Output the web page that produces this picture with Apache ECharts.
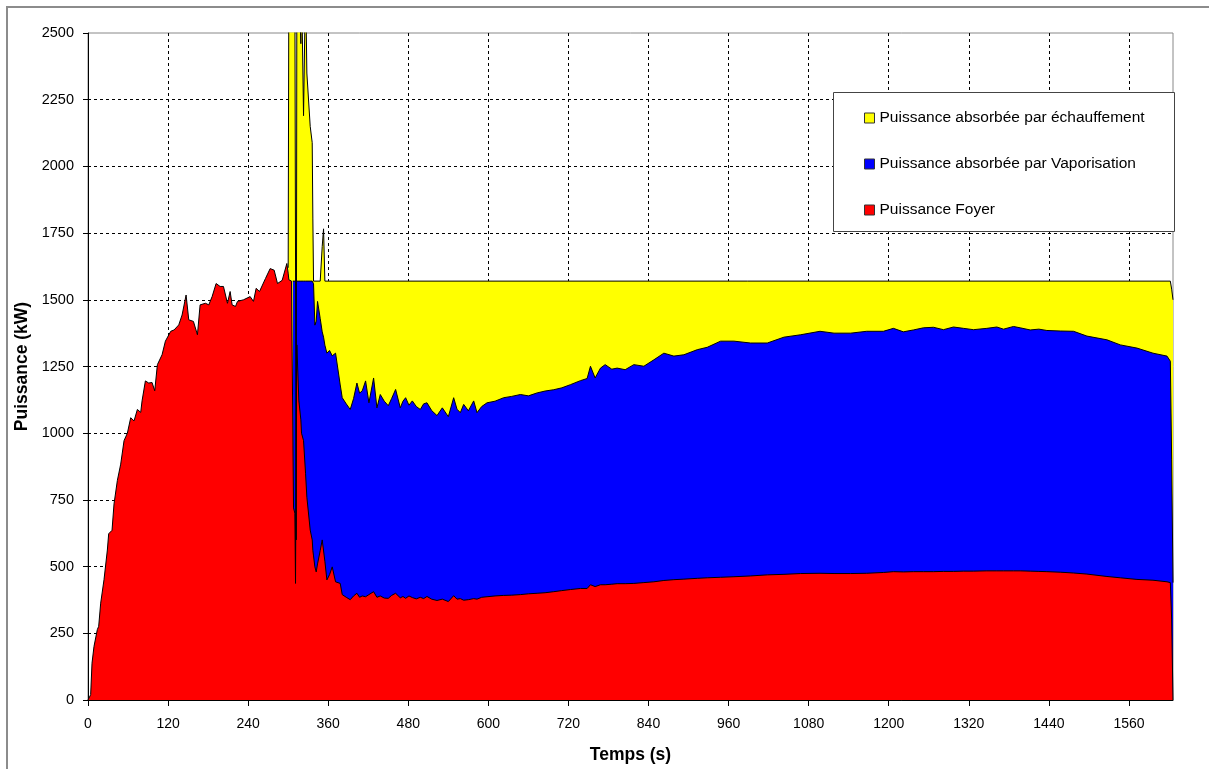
<!DOCTYPE html>
<html>
<head>
<meta charset="utf-8">
<title>Puissance</title>
<script src="https://cdn.jsdelivr.net/npm/echarts@6/dist/echarts.min.js"></script>
<style>
  html, body { margin: 0; padding: 0; background: #fff; }
  #chart { width: 1209px; height: 769px; }
</style>
</head>
<body>
<div id="chart"></div>
<script>
// temps (s), commun à Foyer et Vaporisation
const temps = [
    0, 4, 6, 9, 14, 16, 19, 24, 29, 31,
    36, 39, 44, 49, 54, 59, 64, 69, 74, 79,
    81, 86, 91, 96, 100, 104, 111, 116, 124, 129,
    136, 141, 147, 151, 158, 164, 168, 176, 181, 186,
    192, 198, 203, 209, 213, 216, 221, 224, 233, 243,
    248, 252, 257, 266, 273, 279, 284, 291, 298, 300,
    301, 305, 307, 308, 310, 311, 312, 313, 316, 319,
    320, 323, 326, 328, 333, 336, 337, 338, 340, 342,
    344, 348, 351, 353, 355, 358, 360, 362, 366, 371,
    373, 378, 381, 387, 393, 398, 403, 407, 411, 416,
    421, 428, 433, 438, 444, 450, 455, 461, 468, 472,
    476, 481, 486, 492, 498, 503, 508, 515, 523, 531,
    540, 548, 553, 558, 563, 570, 578, 583, 590, 598,
    610, 623, 635, 648, 660, 673, 685, 698, 710, 723,
    738, 748, 753, 760, 768, 775, 785, 793, 805, 818,
    833, 848, 863, 878, 893, 913, 928, 948, 968, 993,
    1018, 1043, 1068, 1097, 1118, 1143, 1167, 1192, 1207, 1222,
    1237, 1252, 1267, 1282, 1297, 1312, 1327, 1347, 1362, 1372,
    1387, 1397, 1412, 1425, 1437, 1457, 1477, 1497, 1527, 1547,
    1572, 1596, 1617, 1622, 1624, 1626
];

// Puissance Foyer (kW)
const foyer = [
    0, 20, 138, 201, 264, 276, 363, 451, 562, 623,
    636, 735, 823, 884, 972, 1000, 1058, 1046, 1089, 1078,
    1121, 1196, 1188, 1190, 1159, 1257, 1294, 1345, 1382, 1387,
    1406, 1443, 1518, 1425, 1419, 1369, 1481, 1487, 1481, 1512,
    1561, 1550, 1550, 1487, 1531, 1481, 1475, 1494, 1500, 1512,
    1494, 1543, 1531, 1580, 1617, 1611, 1561, 1573, 1636, 1600,
    1575, 1570, 1570, 720, 700, 437, 1000, 1331, 1121, 1050,
    1000, 972, 850, 760, 637, 600, 560, 540, 499, 480,
    510, 560, 600, 600, 520, 450, 455, 470, 499, 443,
    440, 437, 395, 385, 376, 390, 400, 385, 390, 387,
    395, 406, 385, 390, 382, 381, 392, 400, 383, 388,
    381, 390, 384, 379, 385, 380, 388, 378, 373, 378,
    369, 391, 378, 380, 374, 376, 380, 378, 385, 387,
    390, 392, 393, 395, 398, 400, 402, 406, 410, 414,
    418, 418, 432, 425, 432, 432, 434, 436, 436, 437,
    440, 443, 448, 451, 453, 456, 458, 460, 462, 465,
    469, 471, 474, 475, 474, 474, 475, 478, 481, 480,
    481, 481, 481, 482, 482, 483, 483, 484, 484, 484,
    484, 484, 483, 482, 481, 479, 476, 472, 463, 458,
    452, 449, 443, 440, 300, 0
];

// Puissance absorbée par Vaporisation (kW), niveau cumulé
const vaporisation = [
    null, null, null, null, null, null, null, null, null, null,
    null, null, null, null, null, null, null, null, null, null,
    null, null, null, null, null, null, null, null, null, null,
    null, null, null, null, null, null, null, null, null, null,
    null, null, null, null, null, null, null, null, null, null,
    null, null, null, null, null, null, null, null, null, null,
    null, null, 1570, 1570, 1570, 1570, 1570, 1570, 1570, 1570,
    1570, 1570, 1570, 1570, 1570, 1570, 1570, 1560, 1405, 1420,
    1494, 1430, 1380, 1360, 1330, 1300, 1293, 1310, 1290, 1300,
    1293, 1181, 1133, 1110, 1089, 1130, 1188, 1150, 1159, 1196,
    1114, 1207, 1095, 1145, 1120, 1103, 1130, 1164, 1095, 1120,
    1133, 1105, 1121, 1100, 1089, 1110, 1114, 1085, 1066, 1095,
    1062, 1133, 1090, 1077, 1108, 1084, 1121, 1077, 1100, 1114,
    1120, 1133, 1138, 1145, 1140, 1151, 1158, 1163, 1170, 1182,
    1197, 1205, 1251, 1207, 1244, 1257, 1240, 1244, 1238, 1257,
    1251, 1275, 1300, 1289, 1294, 1313, 1322, 1345, 1345, 1338,
    1338, 1360, 1369, 1382, 1375, 1375, 1382, 1382, 1393, 1380,
    1387, 1395, 1397, 1388, 1398, 1393, 1388, 1393, 1398, 1390,
    1400, 1395, 1387, 1390, 1385, 1383, 1382, 1364, 1350, 1331,
    1319, 1300, 1289, 1270, 900, 440
];

// Puissance absorbée par échauffement (kW), niveau cumulé : pic puis plateau
const tempsEchauffement = [
    300, 301, 305, 307, 308, 310, 311, 312, 313, 316,
    319, 320, 323, 326, 328, 333, 336, 337, 338, 348,
    351, 353, 355, 1622, 1624, 1626
];
const echauffement = [
    1620, 2700, 2700, 2700, 2700, 2700, 2700, 600, 2700, 2700,
    2460, 2700, 2190, 2700, 2350, 2150, 2089, 1803, 1570, 1570,
    1700, 1766, 1570, 1570, 1540, 1500
];

const noms = [
    'Puissance absorbée par échauffement',
    'Puissance absorbée par Vaporisation',
    'Puissance Foyer'
];

const police = "'Liberation Sans', Arial, sans-serif";

const chart = echarts.init(document.getElementById('chart'));

function paires(t, v) {
    return t.map((x, i) => [x, v[i]]);
}

function serieAire(nom, data, couleur) {
    return {
        name: nom,
        type: 'line',
        data: data,
        symbol: 'none',
        showSymbol: false,
        connectNulls: false,
        itemStyle: { color: couleur },
        lineStyle: { color: '#000', width: 1 },
        areaStyle: { color: couleur, opacity: 1 },
        emphasis: { disabled: true },
    };
}

const option = {
    animation: false,
    backgroundColor: '#fff',
    grid: {
        left: 88,
        top: 33,
        width: 1085,
        height: 671,
        show: true,
        borderColor: '#888',
        borderWidth: 1,
    },
    xAxis: {
        type: 'value',
        min: 0,
        max: 1626,
        interval: 120,
        name: 'Temps (s)',
        nameLocation: 'middle',
        nameGap: 46,
        nameTextStyle: { fontFamily: police, fontSize: 17.5, fontWeight: 'bold', color: '#000' },
        axisLine: { lineStyle: { color: '#000', width: 1 } },
        axisTick: { show: true, inside: false, length: 6, lineStyle: { color: '#000' } },
        axisLabel: {
            fontFamily: police, fontSize: 14, color: '#000', margin: 17, showMaxLabel: false,
            formatter: v => String(v)
        },
        splitLine: {
            show: true,
            showMinLine: false,
            showMaxLine: false,
            lineStyle: { color: '#000', type: [3, 3], width: 1 }
        },
    },
    yAxis: {
        type: 'value',
        min: 0,
        max: 2500,
        interval: 250,
        name: 'Puissance (kW)',
        nameLocation: 'middle',
        nameGap: 51,
        nameTextStyle: { fontFamily: police, fontSize: 17.5, fontWeight: 'bold', color: '#000' },
        axisLine: { show: true, lineStyle: { color: '#000', width: 1 } },
        axisTick: { show: true, inside: false, length: 5, lineStyle: { color: '#000' } },
        axisLabel: {
            fontFamily: police, fontSize: 14.5, color: '#000', margin: 14,
            formatter: v => String(v)
        },
        splitLine: {
            show: true,
            showMaxLine: false,
            lineStyle: { color: '#000', type: [3, 3], width: 1 }
        },
    },
    legend: {
        orient: 'vertical',
        left: 864,
        top: 110,
        padding: 0,
        itemGap: 30,
        itemWidth: 10,
        itemHeight: 10,
        icon: 'rect',
        selectedMode: false,
        itemStyle: { borderColor: '#333', borderWidth: 1 },
        textStyle: { fontFamily: police, fontSize: 15.5, color: '#000', lineHeight: 16 },
        data: noms,
    },
    graphic: [
        {
            type: 'rect',
            z: 3,
            shape: { x: 833.5, y: 92.5, width: 341, height: 139 },
            style: { fill: '#fff', stroke: '#444', lineWidth: 1 }
        },
        {
            type: 'rect',
            z: 10,
            shape: { x: 7, y: 7, width: 1400, height: 900 },
            style: { fill: 'none', stroke: '#8c8c8c', lineWidth: 2 }
        }
    ],
    series: [
        serieAire(noms[0], paires(tempsEchauffement, echauffement), '#ffff00'),
        serieAire(noms[1], paires(temps, vaporisation), '#0000ff'),
        serieAire(noms[2], paires(temps, foyer), '#ff0000'),
    ]
};

chart.setOption(option);
</script>
</body>
</html>
